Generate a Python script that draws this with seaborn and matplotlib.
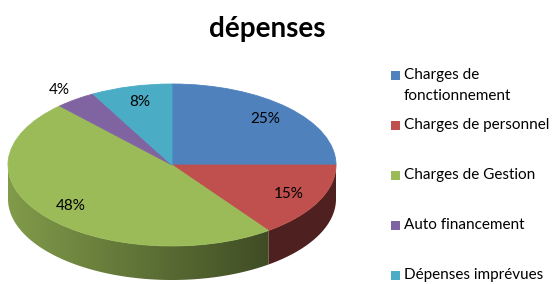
import numpy as np
import matplotlib
matplotlib.use("Agg")
import matplotlib.pyplot as plt
from matplotlib.patches import Polygon, Rectangle
import seaborn as sns

categories = ["Charges de\nfonctionnement", "Charges de personnel",
              "Charges de Gestion", "Auto financement", "Dépenses imprévues"]
values = [25, 15, 48, 4, 8]
title = "dépenses"

palette = ["#4F81BD", "#C0504D", "#9BBB59", "#8064A2", "#4BACC6"]

sns.set_theme(style="white")
plt.rcParams["font.family"] = ["Lato", "DejaVu Sans"]

W, H = 554, 284
fig = plt.figure(figsize=(W / 100, H / 100), dpi=100)

# pie geometry in pixels
cx, cy = 172, 165          # centre (from top)
rx, ry = 164, 81           # radii
depth = 34 / ry            # side depth in data units
xlim = (-1.05, 1.05)
ylim = (-1.47, 1.05)
axw = (xlim[1] - xlim[0]) * rx
axh = (ylim[1] - ylim[0]) * ry
left = cx + xlim[0] * rx
bottom = (H - cy) + ylim[0] * ry
ax = fig.add_axes([left / W, bottom / H, axw / W, axh / H])

wedges, texts, autotexts = ax.pie(
    values, colors=palette, startangle=90, counterclock=False,
    autopct="%.0f%%", pctdistance=0.8,
    wedgeprops=dict(linewidth=0.6, zorder=5),
    textprops=dict(fontsize=11, color="#000000", zorder=10),
)
for w, c in zip(wedges, palette):
    w.set_edgecolor(c)
    w.set_zorder(5)

# small slice label outside (best fit)
for w, t in zip(wedges, autotexts):
    t.set_zorder(10)
    frac = (w.theta2 - w.theta1) / 360
    if frac < 0.05:
        mid = np.deg2rad((w.theta1 + w.theta2) / 2)
        t.set_position((1.17 * np.cos(mid), 1.14 * np.sin(mid)))

ax.set_aspect("auto")
ax.axis("off")

# 3D side of the pie, shaded with a horizontal gradient
xs = np.linspace(-1, 1, 600)
shade = 0.83 - 0.42 * np.clip((xs + 1) / 1.58, 0, 1)
for w, c in zip(wedges, palette):
    t = np.linspace(w.theta1, w.theta2, 800)
    rad = np.deg2rad(t)
    m = np.sin(rad) <= 1e-9
    if not m.any():
        continue
    tr = rad[m]
    top = np.column_stack([np.cos(tr), np.sin(tr)])
    bot = np.column_stack([np.cos(tr[::-1]), np.sin(tr[::-1]) - depth])
    poly = Polygon(np.vstack([top, bot]), closed=True, facecolor="none",
                   edgecolor="none", zorder=2)
    ax.add_patch(poly)
    rgb = np.array(matplotlib.colors.to_rgb(c))
    img = (shade[:, None] * rgb[None, :])[None, :, :]
    im = ax.imshow(img, extent=(-1, 1, -1 - depth, 0.2), aspect="auto",
                   interpolation="bilinear", zorder=2)
    im.set_clip_path(poly)
ax.set_xlim(*xlim)
ax.set_ylim(*ylim)

# title
fig.text(267 / W, 1 - 37 / H, title, ha="center", va="baseline",
         fontsize=20, fontweight="bold", color="#000000")

# legend
lx, tx = 391, 404
first = 75
step = 50
for i, (lab, c) in enumerate(zip(categories, palette)):
    yc = first + step * i
    fig.patches.append(Rectangle((lx / W, (H - yc - 4.5) / H), 9 / W, 9 / H,
                                 transform=fig.transFigure, facecolor=c,
                                 edgecolor="none"))
    fig.text(tx / W, 1 - (yc - 7) / H, lab, ha="left", va="top",
             fontsize=11, color="#000000", linespacing=1.6)

fig.savefig("out.png", dpi=100, facecolor="white")
